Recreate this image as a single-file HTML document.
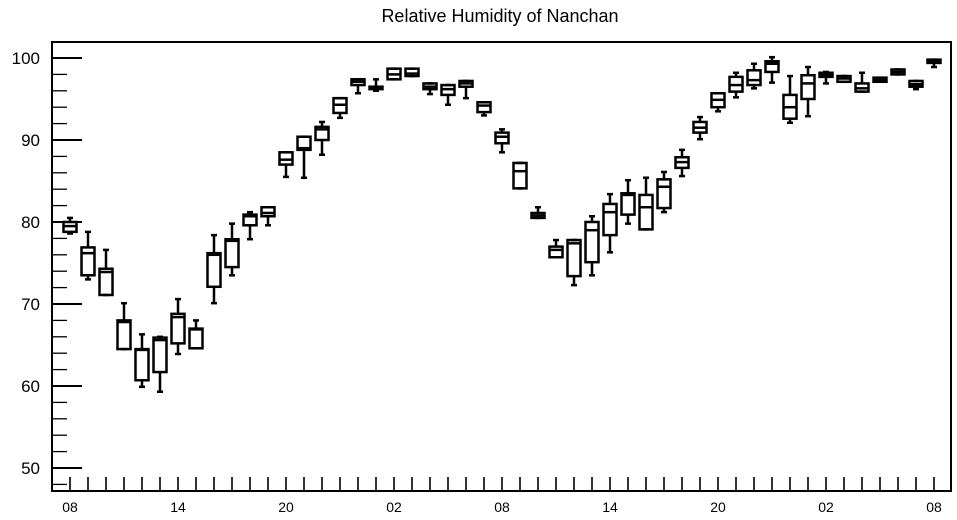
<!DOCTYPE html>
<html><head><meta charset="utf-8"><style>
body{margin:0;background:#fff;}
svg{display:block;font-family:"Liberation Sans",sans-serif;}
</style></head><body>
<svg id="chart" width="957" height="520">
<text x="500" y="22" text-anchor="middle" font-size="18">Relative Humidity of Nanchan</text>
<g id="axes"></g><g id="boxes"></g>
</svg>
<script>
const xLabels=["08","14","20","02","08","14","20","02","08"];
const yTicks=[50,60,70,80,90,100];
const q1=[78.8,73.5,71.1,64.5,60.7,61.7,65.2,64.6,72.1,74.5,79.6,80.7,87.0,88.8,90.0,93.3,96.7,96.2,97.4,97.8,96.2,95.5,96.5,93.4,89.6,84.1,80.5,75.7,73.4,75.1,78.4,80.9,79.1,81.7,86.6,90.9,94.0,95.9,96.7,98.3,92.6,95.0,97.7,97.1,95.9,97.1,98.0,96.5,99.4];
const med=[79.5,76.2,73.9,67.8,64.4,65.6,68.4,66.9,76.0,77.7,80.7,81.1,87.6,89.0,91.3,94.3,97.1,96.3,98.0,98.1,96.5,96.2,96.9,94.2,90.4,86.2,80.8,76.6,77.4,79.0,81.2,83.3,81.8,84.3,87.3,91.5,94.9,96.7,97.3,99.3,94.0,96.9,97.9,97.5,96.3,97.3,98.3,96.8,99.6];
const q3=[80.0,76.9,74.3,68.0,64.5,65.9,68.8,67.0,76.2,77.9,80.9,81.8,88.5,90.4,91.6,95.1,97.4,96.5,98.7,98.7,96.9,96.7,97.2,94.6,90.9,87.2,81.1,77.0,77.8,80.0,82.2,83.5,83.3,85.2,87.9,92.2,95.7,97.7,98.5,99.6,95.5,97.9,98.2,97.8,96.9,97.6,98.6,97.2,99.8];
const wmin=[78.6,73.0,71.1,64.5,59.9,59.3,63.9,64.6,70.1,73.5,77.9,79.6,85.5,85.4,88.2,92.7,95.7,96.0,97.4,97.8,95.6,94.3,95.1,93.0,88.5,84.1,80.5,75.7,72.3,73.5,76.3,79.8,79.1,81.2,85.6,90.1,93.5,95.2,96.3,97.0,92.1,92.9,96.9,97.1,95.9,97.1,98.0,96.2,98.9];
const wmax=[80.5,78.8,76.6,70.1,66.3,66.0,70.6,68.0,78.4,79.8,81.2,81.8,88.5,90.4,92.2,95.1,97.4,97.4,98.7,98.7,96.9,96.7,97.2,94.6,91.3,87.2,81.8,77.8,77.8,80.7,83.4,85.1,85.4,86.1,88.8,92.8,95.7,98.2,99.3,100.1,97.8,98.9,98.3,97.8,98.2,97.6,98.6,97.2,99.8];
const NS="http://www.w3.org/2000/svg";
const L=52,R=951,T=42,B=491;
function yS(v){return 58+(100-v)*8.2;}
function xS(i){return 70+i*18;}
function mk(tag,attrs,parent){const e=document.createElementNS(NS,tag);for(const k in attrs)e.setAttribute(k,attrs[k]);parent.appendChild(e);return e;}
const ax=document.getElementById('axes');
const frame=mk('rect',{x:L,y:T,width:R-L,height:B-T,fill:'none',stroke:'#000','stroke-width':2},ax);


for(let v=48;v<=100;v+=2){
  const maj=yTicks.includes(v);
  const t=mk('line',{x1:L,x2:L+(maj?30:15),y1:yS(v),y2:yS(v),stroke:'#000','stroke-width':maj?2:1.3},ax);
  
  
}
yTicks.forEach(v=>{
  const t=mk('text',{x:40,y:yS(v)+6,'text-anchor':'end','font-size':17},ax);
  t.textContent=v;
  
  
});
for(let i=0;i<q1.length;i++){
  const t=mk('line',{x1:xS(i),x2:xS(i),y1:B,y2:B-14,stroke:'#000','stroke-width':1.6},ax);
  
  
}
xLabels.forEach((s,j)=>{
  const t=mk('text',{x:xS(j*6),y:512,'text-anchor':'middle','font-size':14},ax);
  t.textContent=s;
  
  
});
const bx=document.getElementById('boxes');
for(let i=0;i<q1.length;i++){
  const g=mk('g',{stroke:'#000','stroke-width':2.5,fill:'none'},bx);
  
  
  const x=xS(i),w=13;
  mk('line',{x1:x,x2:x,y1:yS(wmax[i]),y2:yS(q3[i])},g);
  mk('line',{x1:x,x2:x,y1:yS(q1[i]),y2:yS(wmin[i])},g);
  mk('line',{x1:x-3,x2:x+3,y1:yS(wmax[i]),y2:yS(wmax[i])},g);
  mk('line',{x1:x-3,x2:x+3,y1:yS(wmin[i]),y2:yS(wmin[i])},g);
  mk('rect',{x:x-w/2,y:yS(q3[i]),width:w,height:Math.max(yS(q1[i])-yS(q3[i]),2)},g);
  mk('line',{x1:x-w/2,x2:x+w/2,y1:yS(med[i]),y2:yS(med[i])},g);
}
</script>
</body></html>
